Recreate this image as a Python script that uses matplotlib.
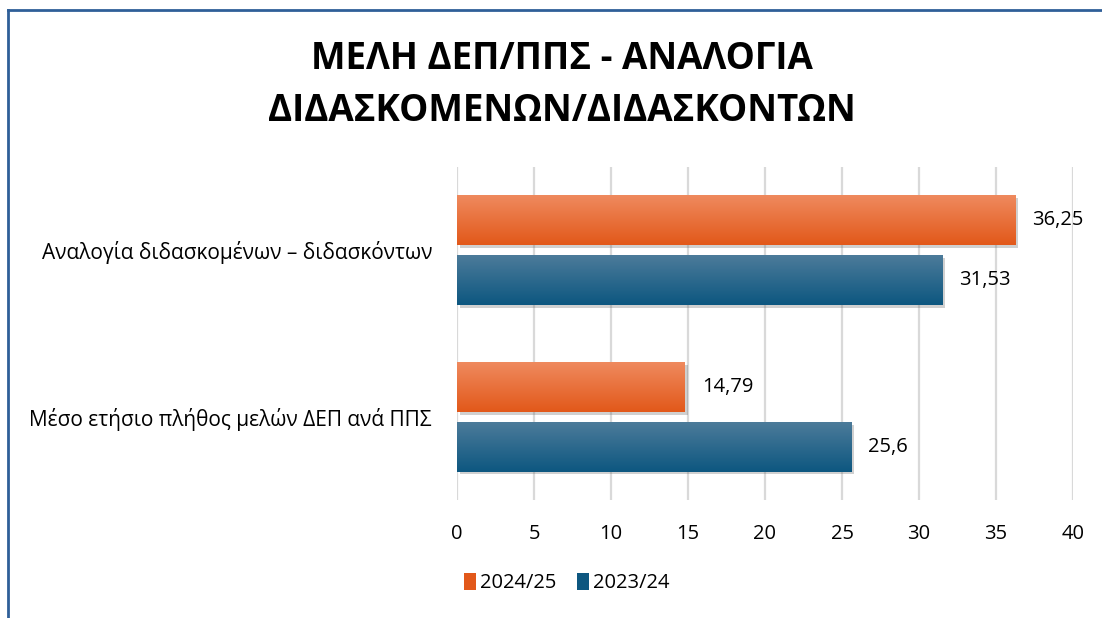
import numpy as np
import matplotlib
matplotlib.use('Agg')
from matplotlib import pyplot as plt
from matplotlib import patheffects
from matplotlib.colors import LinearSegmentedColormap
from matplotlib.patches import Patch
from matplotlib.lines import Line2D

#%% DATA

title = 'ΜΕΛΗ ΔΕΠ/ΠΠΣ - ΑΝΑΛΟΓΙΑ\nΔΙΔΑΣΚΟΜΕΝΩΝ/ΔΙΔΑΣΚΟΝΤΩΝ'
categories = ['Μέσο ετήσιο πλήθος μελών ΔΕΠ ανά ΠΠΣ',
              'Αναλογία διδασκομένων – διδασκόντων']
series_names = ['2024/25', '2023/24']
vals_2425 = [14.79, 36.25]
vals_2324 = [25.6, 31.53]
xticks = [0, 5, 10, 15, 20, 25, 30, 35, 40]

#%% PLOT

plt.rcParams['font.family'] = ['Open Sans', 'DejaVu Sans']

orange_top, orange_bot = '#EF8A5E', '#E2581A'
blue_top, blue_bot = '#4C7B9A', '#0D5780'

fig = plt.figure(figsize=(11.02, 6.18), dpi=100)
ax = fig.add_axes([457/1102, 1-500/618, 616/1102, 333/618])

y = np.arange(len(categories))
h = 0.30
off = 0.18

def grad_bars(ypos, vals, ctop, cbot):
    bars = ax.barh(ypos, vals, height=h, color=cbot, zorder=3,
                   path_effects=[patheffects.SimplePatchShadow(offset=(2, -2), shadow_rgbFace='#666666', alpha=0.3),
                                 patheffects.Normal()])
    cmap = LinearSegmentedColormap.from_list('g', [cbot, ctop])
    grad = np.linspace(0, 1, 64).reshape(-1, 1)
    for b in bars:
        x0, y0 = b.get_x(), b.get_y()
        im = ax.imshow(grad, cmap=cmap, aspect='auto', origin='lower',
                       extent=[x0, x0 + b.get_width(), y0, y0 + b.get_height()],
                       zorder=4)
        im.set_clip_path(b)
    return bars

grad_bars(y + off, vals_2425, orange_top, orange_bot)
grad_bars(y - off, vals_2324, blue_top, blue_bot)

for i in range(len(categories)):
    ax.text(vals_2425[i] + 1.1, y[i] + off, str(vals_2425[i]).replace('.', ','),
            va='center', ha='left', fontsize=14.5)
    ax.text(vals_2324[i] + 1.1, y[i] - off, str(vals_2324[i]).replace('.', ','),
            va='center', ha='left', fontsize=14.5)

ax.set_xlim(0, 40)
ax.set_ylim(-0.5, 1.5)
ax.set_xticks(xticks)
ax.set_xticklabels([str(t) for t in xticks], fontsize=14.5)
ax.set_yticks(y)
ax.set_yticklabels(categories, fontsize=15)
ax.tick_params(axis='x', length=0, pad=17)
ax.tick_params(axis='y', length=0, pad=18)
ax.grid(axis='x', color='#D9D9D9', linewidth=1.6, zorder=0)
ax.set_axisbelow(True)
for s in ax.spines.values():
    s.set_visible(False)

fig.text(562/1102, 1-85/618, title, ha='center', va='center', fontsize=26.5,
         fontweight='bold', linespacing=1.5)

handles = [Patch(facecolor=orange_bot), Patch(facecolor=blue_bot)]
fig.legend(handles, series_names, loc='center', bbox_to_anchor=(567/1102, 1-583/618),
           ncol=2, frameon=False, fontsize=14.5, handlelength=0.6, handleheight=0.9,
           handletextpad=0.2, columnspacing=1.0)

# chart frame (top and left edges)
fig.add_artist(Line2D([8/1102, 1], [1-10/618, 1-10/618], color='#2F5F98', linewidth=2))
fig.add_artist(Line2D([8/1102, 8/1102], [0, 1-10/618], color='#2F5F98', linewidth=2))

fig.savefig('out.png', dpi=100)
